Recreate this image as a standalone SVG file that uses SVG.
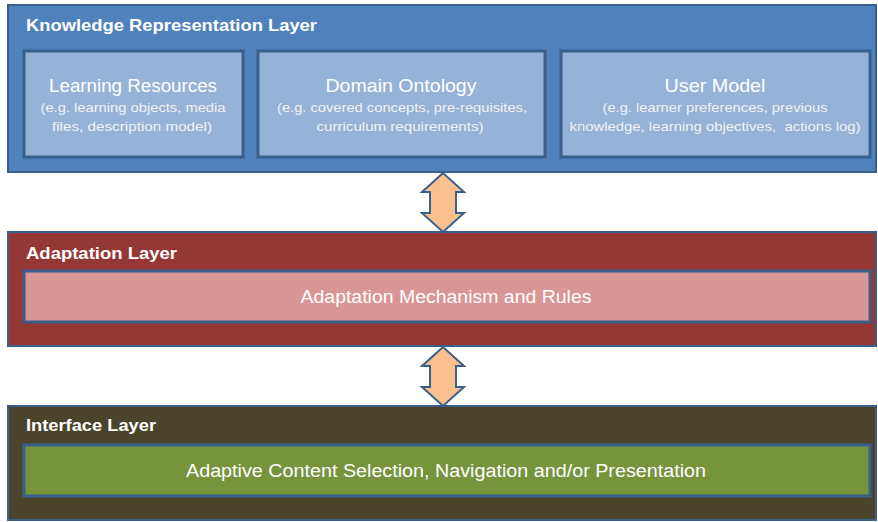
<svg xmlns="http://www.w3.org/2000/svg" width="878" height="522" viewBox="0 0 878 522">
<style>
text{font-family:"Liberation Sans",Arial,sans-serif;fill:#ffffff}
.layer{stroke:#3a5f8b;stroke-width:2}
.box{stroke:#3a5f8b;stroke-width:3}
.title{font-weight:bold;font-size:17px}
.head{font-size:18px;text-anchor:middle}
.sub{font-size:13.5px;text-anchor:middle;fill:#f2f2f2}
.arrow{fill:#fac090;stroke:#3a5f8b;stroke-width:2;stroke-linejoin:miter}
</style>
<rect width="878" height="522" fill="#ffffff"/>
<g id="knowledge-layer">
<rect class="layer" x="8" y="5" width="868" height="167" fill="#4f81bd"/>
<text class="title" x="26" y="31" textLength="291" lengthAdjust="spacingAndGlyphs">Knowledge Representation Layer</text>
</g>
<g id="learning-resources">
<rect class="box" x="24" y="51" width="219" height="106" fill="#95b3d7"/>
<text class="head" x="133" y="92" textLength="168" lengthAdjust="spacingAndGlyphs">Learning Resources</text>
<text class="sub" x="133" y="112" textLength="185" lengthAdjust="spacingAndGlyphs">(e.g. learning objects, media</text>
<text class="sub" x="132" y="131" textLength="160" lengthAdjust="spacingAndGlyphs">files, description model)</text>
</g>
<g id="domain-ontology">
<rect class="box" x="258" y="51" width="287" height="106" fill="#95b3d7"/>
<text class="head" x="401" y="92" textLength="151" lengthAdjust="spacingAndGlyphs">Domain Ontology</text>
<text class="sub" x="402" y="112" textLength="250" lengthAdjust="spacingAndGlyphs">(e.g. covered concepts, pre-requisites,</text>
<text class="sub" x="400" y="131" textLength="167" lengthAdjust="spacingAndGlyphs">curriculum requirements)</text>
</g>
<g id="user-model">
<rect class="box" x="561" y="51" width="309" height="106" fill="#95b3d7"/>
<text class="head" x="715" y="92" textLength="101" lengthAdjust="spacingAndGlyphs">User Model</text>
<text class="sub" x="715" y="112" textLength="225" lengthAdjust="spacingAndGlyphs">(e.g. learner preferences, previous</text>
<text class="sub" x="715" y="131" textLength="291" lengthAdjust="spacingAndGlyphs" xml:space="preserve">knowledge, learning objectives,  actions log)</text>
</g>
<g id="adaptation-layer">
<rect class="layer" x="8" y="232" width="868" height="114" fill="#953735"/>
<text class="title" x="26" y="259" textLength="151" lengthAdjust="spacingAndGlyphs">Adaptation Layer</text>
</g>
<g id="adaptation-mechanism">
<rect class="box" x="24" y="271" width="846" height="51" fill="#d99694"/>
<text class="head" x="446" y="303" textLength="291" lengthAdjust="spacingAndGlyphs">Adaptation Mechanism and Rules</text>
</g>
<g id="interface-layer">
<rect class="layer" x="8" y="406" width="868" height="114" fill="#4a452a"/>
<text class="title" x="26" y="431" textLength="130" lengthAdjust="spacingAndGlyphs">Interface Layer</text>
</g>
<g id="adaptive-content">
<rect class="box" x="24" y="445" width="846" height="51" fill="#77933c"/>
<text class="head" x="446" y="477" textLength="520" lengthAdjust="spacingAndGlyphs">Adaptive Content Selection, Navigation and/or Presentation</text>
</g>
<g id="connectors">
<polygon class="arrow" points="443,173 422,192 430,192 430,213 422,213 443,232 464,213 456,213 456,192 464,192"/>
<polygon class="arrow" points="443,347 422,366 430,366 430,387 422,387 443,406 464,387 456,387 456,366 464,366"/>
</g>
</svg>
